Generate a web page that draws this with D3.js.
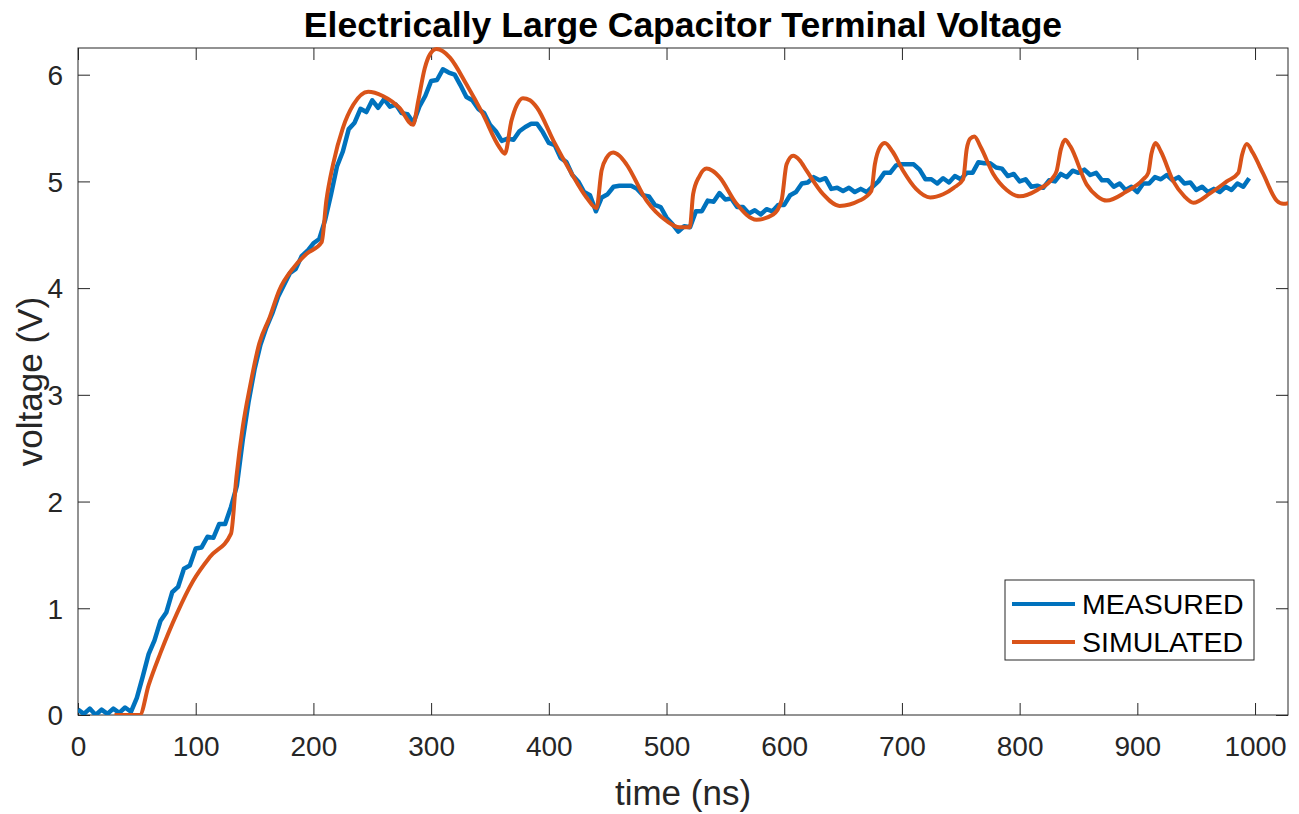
<!DOCTYPE html>
<html>
<head>
<meta charset="utf-8">
<script src="https://cdn.jsdelivr.net/npm/d3@7"></script>
<style>
  html, body { margin: 0; padding: 0; background: #fff; }
  svg { display: block; font-family: "Liberation Sans", Arial, Helvetica, sans-serif; }
</style>
</head>
<body>
<svg id="chart" width="1299" height="814"></svg>
<script>
// Measured scope trace: one sample every 5 ns starting at 0 ns (volts)
const measuredStart = 0;
const measuredStep = 5;
const measuredVolts = [
  0.05, 0.01, 0.06, 0.00, 0.05, 0.01, 0.06, 0.02, 0.07, 0.03,
  0.16, 0.36, 0.57, 0.70, 0.88, 0.96, 1.15, 1.20, 1.37, 1.40,
  1.56, 1.57, 1.67, 1.66, 1.79, 1.79, 1.95, 2.15, 2.58, 2.94,
  3.24, 3.47, 3.63, 3.76, 3.92, 4.03, 4.14, 4.18, 4.30, 4.35,
  4.42, 4.46, 4.64, 4.88, 5.14, 5.28, 5.49, 5.55, 5.68, 5.65,
  5.76, 5.69, 5.77, 5.70, 5.72, 5.64, 5.63, 5.55, 5.70, 5.80,
  5.94, 5.95, 6.05, 6.02, 6.00, 5.90, 5.79, 5.76, 5.68, 5.64,
  5.53, 5.47, 5.38, 5.40, 5.39, 5.47, 5.51, 5.54, 5.54, 5.46,
  5.36, 5.34, 5.22, 5.18, 5.06, 5.00, 4.90, 4.87, 4.72, 4.85,
  4.88, 4.95, 4.96, 4.96, 4.96, 4.93, 4.87, 4.86, 4.78, 4.76,
  4.66, 4.60, 4.53, 4.58, 4.57, 4.72, 4.72, 4.82, 4.81, 4.89,
  4.83, 4.84, 4.76, 4.76, 4.70, 4.73, 4.69, 4.74, 4.72, 4.78,
  4.78, 4.87, 4.90, 4.98, 4.99, 5.04, 5.01, 5.03, 4.93, 4.94,
  4.91, 4.94, 4.90, 4.93, 4.90, 4.95, 5.00, 5.08, 5.08, 5.15,
  5.16, 5.16, 5.16, 5.11, 5.02, 5.02, 4.98, 5.03, 4.99, 5.05,
  5.02, 5.08, 5.08, 5.18, 5.17, 5.17, 5.13, 5.12, 5.05, 5.07,
  5.00, 5.02, 4.95, 4.96, 4.94, 5.01, 5.00, 5.07, 5.04, 5.10,
  5.08, 5.11, 5.06, 5.08, 5.01, 5.01, 4.95, 4.98, 4.92, 4.95,
  4.90, 4.98, 4.98, 5.04, 5.02, 5.06, 5.01, 5.04, 4.98, 4.99,
  4.92, 4.95, 4.90, 4.93, 4.90, 4.95, 4.92, 4.98, 4.95, 5.03
];

// Simulated response: breakpoints (ns) and voltages (V)
const simTime = [
  31, 52.5, 60, 70, 84, 98, 112, 130,
  134.6, 140, 146, 154, 163, 171, 183, 194, 207,
  211, 216.7, 225, 234, 246.5, 259, 273, 284.7,
  289, 294.6, 299, 304.6, 310, 316, 330, 344, 358, 362.6,
  368.3, 373, 378, 384, 390, 404, 418, 432, 440.5,
  444.8, 449, 454.7, 460, 466, 483, 500, 511, 519.8,
  522.6, 528, 534, 539, 545, 559.5, 576.5, 590.6, 597.7,
  602, 607.6, 613, 619, 633, 647, 664, 674,
  677, 681.3, 685.5, 692, 701, 712, 724, 735, 744, 752,
  755, 758, 761.5, 767, 777.6, 789, 800, 815, 828.6, 831.5,
  835, 838.5, 843, 857, 866, 874, 890, 905, 909.3,
  912, 915.5, 920, 930.6, 940, 947.6, 962, 976, 985.8,
  989, 993, 998, 1007, 1018.4, 1024, 1030
];
const simVolts = [
  0, 0, 0.28, 0.58, 0.95, 1.26, 1.48, 1.70,
  2.23, 2.70, 3.07, 3.48, 3.73, 3.98, 4.19, 4.32, 4.43,
  4.82, 5.16, 5.50, 5.72, 5.84, 5.80, 5.69, 5.53,
  5.75, 6.06, 6.19, 6.24, 6.22, 6.16, 5.91, 5.63, 5.32, 5.26,
  5.57, 5.72, 5.78, 5.76, 5.69, 5.38, 5.10, 4.85, 4.75,
  5.10, 5.22, 5.27, 5.24, 5.16, 4.82, 4.63, 4.57, 4.57,
  4.88, 5.05, 5.12, 5.10, 5.04, 4.79, 4.64, 4.69, 4.82,
  5.16, 5.24, 5.20, 5.10, 4.88, 4.77, 4.82, 4.91,
  5.16, 5.32, 5.36, 5.28, 5.10, 4.93, 4.85, 4.88, 4.94, 5.02,
  5.30, 5.40, 5.42, 5.32, 5.07, 4.92, 4.86, 4.92, 5.04, 5.10,
  5.30, 5.39, 5.33, 4.97, 4.86, 4.82, 4.90, 5.02, 5.08,
  5.26, 5.36, 5.28, 5.00, 4.86, 4.80, 4.89, 5.00, 5.08,
  5.25, 5.35, 5.27, 5.07, 4.82, 4.79, 4.80
];

// Axis ticks and labels
const xTicks = [0, 100, 200, 300, 400, 500, 600, 700, 800, 900, 1000];
const yTicks = [0, 1, 2, 3, 4, 5, 6];
const xDomain = [0, 1028];
const yDomain = [0, 6.25];
const seriesNames = ["MEASURED", "SIMULATED"];
const seriesColors = ["#0072BD", "#D95319"];
const titleText = "Electrically Large Capacitor Terminal Voltage";
const xLabel = "time (ns)";
const yLabel = "voltage (V)";

const svg = d3.select("#chart");
const plot = { left: 78, right: 1288, top: 48, bottom: 715 };
const axisColor = "#262626";

const x = d3.scaleLinear().domain(xDomain).range([plot.left, plot.right]);
const y = d3.scaleLinear().domain(yDomain).range([plot.bottom, plot.top]);

const measured = measuredVolts.map((v, i) => ({ t: measuredStart + i * measuredStep, v }));
const simulated = simTime.map((t, i) => ({ t, v: simVolts[i] }));

// Clip the traces to the axes box
svg.append("defs").append("clipPath").attr("id", "plotClip")
  .append("rect")
  .attr("x", plot.left).attr("y", plot.top - 2)
  .attr("width", plot.right - plot.left).attr("height", plot.bottom - plot.top + 2);

const tickLen = 12;
const axisFont = 28;
const plain = d => String(d);

// Bottom axis with inward ticks
const xAxis = svg.append("g")
  .attr("transform", `translate(0,${plot.bottom})`)
  .call(d3.axisBottom(x).tickValues(xTicks).tickFormat(plain)
    .tickSizeInner(-tickLen).tickSizeOuter(0).tickPadding(21));
// Top axis (ticks only)
const xAxisTop = svg.append("g")
  .attr("transform", `translate(0,${plot.top})`)
  .call(d3.axisTop(x).tickValues(xTicks).tickSizeInner(-tickLen).tickSizeOuter(0).tickFormat(""));
// Left axis
const yAxis = svg.append("g")
  .attr("transform", `translate(${plot.left},0)`)
  .call(d3.axisLeft(y).tickValues(yTicks).tickFormat(plain)
    .tickSizeInner(-tickLen).tickSizeOuter(0).tickPadding(15));
// Right axis (ticks only)
const yAxisRight = svg.append("g")
  .attr("transform", `translate(${plot.right},0)`)
  .call(d3.axisRight(y).tickValues(yTicks).tickSizeInner(-tickLen).tickSizeOuter(0).tickFormat(""));

[xAxis, xAxisTop, yAxis, yAxisRight].forEach(g => {
  g.select(".domain").remove();
  g.selectAll(".tick line").attr("stroke", axisColor).attr("stroke-width", 1);
  g.selectAll(".tick text")
    .attr("fill", axisColor)
    .style("font-size", axisFont + "px")
    .style("font-family", "'Liberation Sans', Arial, sans-serif");
});
yAxis.selectAll(".tick text").attr("dy", "0.35em");

// Axes box
svg.append("rect")
  .attr("x", plot.left).attr("y", plot.top)
  .attr("width", plot.right - plot.left).attr("height", plot.bottom - plot.top)
  .attr("fill", "none").attr("stroke", axisColor).attr("stroke-width", 1);

const traces = svg.append("g").attr("clip-path", "url(#plotClip)");

const measuredLine = d3.line().x(d => x(d.t)).y(d => y(d.v));
const simLine = d3.line().x(d => x(d.t)).y(d => y(d.v)).curve(d3.curveMonotoneX);

traces.append("path")
  .datum(measured)
  .attr("d", measuredLine)
  .attr("fill", "none")
  .attr("stroke", seriesColors[0])
  .attr("stroke-width", 4.5)
  .attr("stroke-linejoin", "round");

traces.append("path")
  .datum(simulated)
  .attr("d", simLine)
  .attr("fill", "none")
  .attr("stroke", seriesColors[1])
  .attr("stroke-width", 4)
  .attr("stroke-linejoin", "round");

// Title
svg.append("text")
  .attr("x", (plot.left + plot.right) / 2)
  .attr("y", 37)
  .attr("text-anchor", "middle")
  .attr("font-weight", "bold")
  .attr("font-size", 35.5)
  .attr("fill", "#000")
  .text(titleText);

// Axis labels
svg.append("text")
  .attr("x", (plot.left + plot.right) / 2)
  .attr("y", 805)
  .attr("text-anchor", "middle")
  .attr("font-size", 35)
  .attr("fill", axisColor)
  .text(xLabel);

svg.append("text")
  .attr("transform", `translate(42,${(plot.top + plot.bottom) / 2}) rotate(-90)`)
  .attr("text-anchor", "middle")
  .attr("font-size", 35)
  .attr("fill", axisColor)
  .text(yLabel);

// Legend
const legend = svg.append("g").attr("transform", "translate(1005,580)");
legend.append("rect")
  .attr("width", 249).attr("height", 80)
  .attr("fill", "#fff").attr("stroke", axisColor).attr("stroke-width", 1);
seriesNames.forEach((name, i) => {
  const ly = 24 + i * 38;
  legend.append("line")
    .attr("x1", 7).attr("x2", 70).attr("y1", ly).attr("y2", ly)
    .attr("stroke", seriesColors[i]).attr("stroke-width", 4);
  legend.append("text")
    .attr("x", 77).attr("y", ly)
    .attr("dy", "0.36em")
    .attr("font-size", 28.5)
    .attr("fill", "#000")
    .text(name);
});
</script>
</body>
</html>
